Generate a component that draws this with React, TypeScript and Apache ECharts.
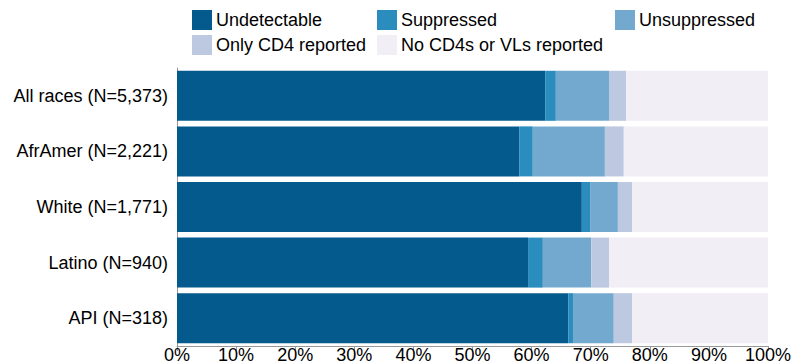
import React, { useEffect, useRef } from "react";
import * as echarts from "echarts";

const categories = [
  "All races (N=5,373)",
  "AfrAmer (N=2,221)",
  "White (N=1,771)",
  "Latino (N=940)",
  "API (N=318)",
];
const seriesNames = [
  "Undetectable",
  "Suppressed",
  "Unsuppressed",
  "Only CD4 reported",
  "No CD4s or VLs reported",
];
const undetectable = [62.3, 57.9, 68.5, 59.4, 66.2];
const suppressed = [1.8, 2.3, 1.4, 2.5, 0.8];
const unsuppressed = [9.0, 12.2, 4.7, 8.2, 6.9];
const onlyCD4 = [2.9, 3.2, 2.4, 3.0, 3.1];
const noCD4orVL = [24.0, 24.4, 23.0, 26.9, 23.0];
const xTicks = [0, 10, 20, 30, 40, 50, 60, 70, 80, 90, 100];

const colors = ["#045a8d", "#2b8cbe", "#74a9cf", "#bdc9e1", "#f1eef6"];
const FONT = "Liberation Sans, Arial, sans-serif";

export default function App() {
  const ref = useRef<HTMLDivElement>(null);
  useEffect(() => {
    if (!ref.current) return;
    const chart = echarts.init(ref.current, null, { renderer: "svg" });
    const values = [undetectable, suppressed, unsuppressed, onlyCD4, noCD4orVL];
    const legendPos = [
      { left: 192, top: 10 },
      { left: 377, top: 10 },
      { left: 615, top: 10 },
      { left: 192, top: 35 },
      { left: 377, top: 35 },
    ];
    chart.setOption({
      animation: false,
      textStyle: { fontFamily: FONT },
      color: colors,
      legend: seriesNames.map((n, i) => ({
        data: [n],
        left: legendPos[i].left,
        top: legendPos[i].top,
        itemWidth: 20,
        itemHeight: 20,
        itemGap: 4,
        padding: 0,
        textStyle: { fontSize: 18, color: "#000", fontFamily: FONT, padding: [0, 0, 0, -1] },
        selectedMode: false,
        icon: "rect",
      })),
      grid: { left: 177, right: 34, top: 68, bottom: 17, containLabel: false },
      xAxis: {
        type: "value",
        min: 0,
        max: 100,
        interval: 10,
        axisLine: { show: true, lineStyle: { color: "#999", width: 1 } },
        axisTick: { show: true, length: 5, lineStyle: { color: "#999" } },
        splitLine: { show: false },
        axisLabel: {
          formatter: (v: number) => (xTicks.includes(v) ? v + "%" : ""),
          fontSize: 18,
          color: "#000",
          margin: 0,
          fontFamily: FONT,
        },
      },
      yAxis: {
        type: "category",
        data: categories,
        inverse: true,
        axisLine: { show: true, lineStyle: { color: "#999", width: 1 } },
        axisTick: { show: false },
        axisLabel: { fontSize: 18, color: "#000", margin: 9, fontFamily: FONT },
      },
      series: seriesNames.map((n, i) => ({
        name: n,
        type: "bar",
        stack: "total",
        data: values[i],
        barCategoryGap: "10%",
        itemStyle: { color: colors[i] },
      })),
    });
    return () => chart.dispose();
  }, []);
  return (
    <div
      ref={ref}
      style={{ position: "absolute", left: 0, top: 0, width: 802, height: 364 }}
    />
  );
}
